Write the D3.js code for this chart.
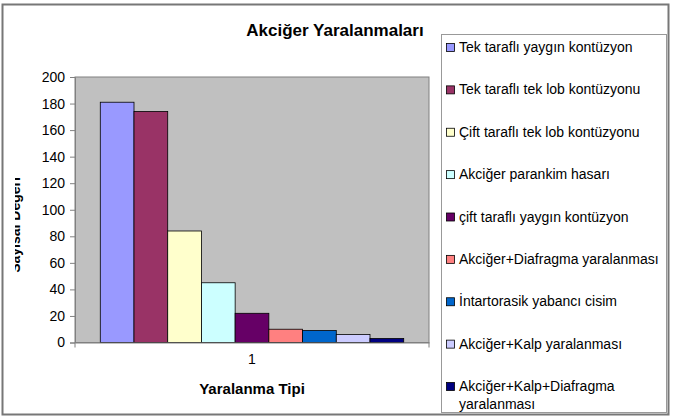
<!DOCTYPE html>
<html>
<head>
<meta charset="utf-8">
<script src="https://cdn.jsdelivr.net/npm/d3@7"></script>
<style>
  body { margin: 0; background: #fff; }
  text { font-family: "Liberation Sans", Arial, sans-serif; }
</style>
</head>
<body>
<svg id="chart" width="673" height="420"></svg>
<script>
// chart data
let categories = ["1"]
let seriesNames = [
    "Tek taraflı yaygın kontüzyon",
    "Tek taraflı tek lob kontüzyonu",
    "Çift taraflı tek lob kontüzyonu",
    "Akciğer parankim hasarı",
    "çift taraflı yaygın kontüzyon",
    "Akciğer+Diafragma yaralanması",
    "İntartorasik yabancı cisim",
    "Akciğer+Kalp yaralanması",
    "Akciğer+Kalp+Diafragma yaralanması"
]
let seriesValues = [181, 174, 84, 45, 22, 10, 9, 6, 3]
let yTicks = [0, 20, 40, 60, 80, 100, 120, 140, 160, 180, 200]
let colors = ["#9999FF", "#993366", "#FFFFCC", "#CCFFFF", "#660066", "#FF8080", "#0066CC", "#CCCCFF", "#000080"]

let svg = d3.select('#chart')

// outer frame
svg.append("rect")
    .attr("x", 2.5).attr("y", 4.5)
    .attr("width", 666).attr("height", 410)
    .attr("fill", "#fff")
    .attr("stroke", "#777").attr("stroke-width", 2)

// plot area
let plot = {left: 75, top: 77, right: 429, bottom: 342.5}

let y = d3.scaleLinear().domain([0, 200]).range([plot.bottom, plot.top])
let x0 = d3.scaleBand().domain(categories).range([plot.left, plot.right])

// Excel gap width 150%: 0.75 bar of empty space each side of the 9 bars
let barW = (plot.right - plot.left) / 10.5
let x1 = d3.scaleBand().domain(seriesNames)
    .range([plot.left + barW * 0.75, plot.right - barW * 0.75])

svg.append("rect")
    .attr("x", plot.left).attr("y", plot.top)
    .attr("width", plot.right - plot.left).attr("height", plot.bottom - plot.top)
    .attr("fill", "#C0C0C0")
    .attr("stroke", "#808080").attr("stroke-width", 1)

// bars
svg.append("g").selectAll("rect")
    .data(seriesValues)
    .enter().append("rect")
        .attr("x", (d, i) => x1(seriesNames[i]))
        .attr("y", d => y(d))
        .attr("width", x1.bandwidth())
        .attr("height", d => y(0) - y(d))
        .attr("fill", (d, i) => colors[i])
        .attr("stroke", "#000").attr("stroke-width", 0.8)

// y axis
let yAxis = svg.append("g")
    .attr("transform", "translate(" + plot.left + ",0)")
    .call(d3.axisLeft(y).tickValues(yTicks).tickSize(5).tickPadding(5))
yAxis.select(".domain").attr("stroke", "#808080")
yAxis.selectAll(".tick line").attr("stroke", "#808080")
yAxis.selectAll("text").attr("font-size", 14).attr("fill", "#000")
    .attr("font-family", "Liberation Sans, Arial, sans-serif")

// x axis
let xAxis = svg.append("g")
    .attr("transform", "translate(0," + plot.bottom + ")")
    .call(d3.axisBottom(x0).tickSize(0).tickPadding(12))
xAxis.select(".domain").attr("stroke", "#808080")
xAxis.selectAll("text").attr("font-size", 14).attr("fill", "#000")
    .attr("font-family", "Liberation Sans, Arial, sans-serif")
svg.append("line")
    .attr("x1", plot.left).attr("x2", plot.left)
    .attr("y1", plot.bottom).attr("y2", plot.bottom + 5).attr("stroke", "#808080")
svg.append("line")
    .attr("x1", plot.right).attr("x2", plot.right)
    .attr("y1", plot.bottom).attr("y2", plot.bottom + 5).attr("stroke", "#808080")

// title
svg.append("text")
    .attr("x", 335).attr("y", 36)
    .style("text-anchor", "middle")
    .attr("font-size", 17).attr("font-weight", "bold")
    .text("Akciğer Yaralanmaları")

// x axis title
svg.append("text")
    .attr("x", 252).attr("y", 394)
    .style("text-anchor", "middle")
    .attr("font-size", 15).attr("font-weight", "bold")
    .text("Yaralanma Tipi")

// y axis title (clipped on the left like the original)
svg.append("clipPath").attr("id", "yclip")
    .append("rect").attr("x", 15).attr("y", 60).attr("width", 40).attr("height", 300)
svg.append("g")
    .attr("clip-path", "url(#yclip)")
    .append("text")
    .attr("transform", "translate(20,225) rotate(-90)")
    .style("text-anchor", "middle")
    .attr("font-size", 14).attr("font-weight", "bold")
    .text("Sayısal Değeri")

// legend
let legend = svg.append("g")
legend.append("rect")
    .attr("x", 441.5).attr("y", 34.5)
    .attr("width", 225).attr("height", 378)
    .attr("fill", "#fff").attr("stroke", "#999")

let itemY = d3.scaleLinear().domain([0, 8]).range([47, 386])
let item = legend.selectAll(".item")
    .data(seriesNames)
    .enter().append("g").attr("class", "item")
        .attr("transform", (d, i) => "translate(446," + itemY(i) + ")")
item.append("rect")
    .attr("x", 0.5).attr("y", -3.5)
    .attr("width", 8).attr("height", 8)
    .attr("fill", (d, i) => colors[i])
    .attr("stroke", "#000").attr("stroke-width", 0.8)
item.each(function(d) {
    let t = d3.select(this).append("text")
        .attr("x", 13).attr("y", 5)
        .attr("font-size", 14).attr("fill", "#000")
    let words = d === "Akciğer+Kalp+Diafragma yaralanması" ? ["Akciğer+Kalp+Diafragma", "yaralanması"] : [d]
    words.forEach((w, k) => {
        t.append("tspan").attr("x", 13).attr("dy", k === 0 ? 0 : 18).text(w)
    })
})
</script>
</body>
</html>
